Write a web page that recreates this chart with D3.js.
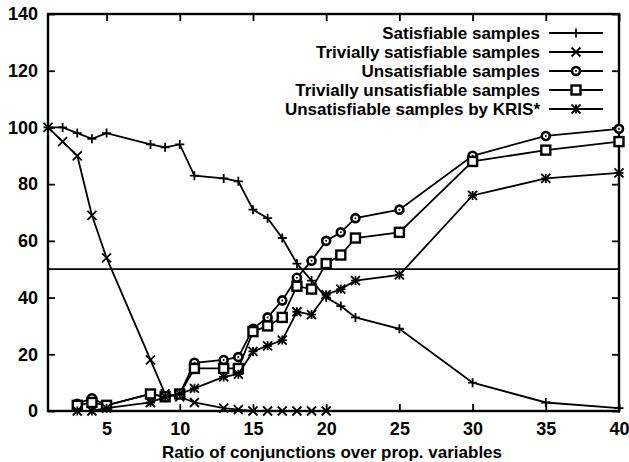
<!DOCTYPE html>
<html>
<head>
<meta charset="utf-8">
<script src="https://cdn.jsdelivr.net/npm/d3@7"></script>
<style>
body { margin: 0; background: #fff; }
text { font-family: "Liberation Sans", Arial, sans-serif; font-weight: bold; fill: #000; }
</style>
</head>
<body>
<svg id="chart" width="629" height="462"></svg>
<script>
var ratios = [1, 2, 3, 4, 5, 8, 9, 10, 11, 13, 14, 15, 16, 17, 18, 19, 20, 21, 22, 25, 30, 35, 40];
var satisfiable = [100, 100, 98, 96, 98, 94, 93, 94, 83, 82, 81, 71, 68, 61, 52, 46, 40, 37, 33, 29, 10, 3, 1];
var trivSatisfiable = [100, 95, 90, 69, 54, 18, 6, 5, 3, 1, 0.5, 0, 0, 0, 0, 0, 0, null, null, null, null, null, null];
var unsatisfiable = [null, null, 2.5, 4.5, 2, 6, 5, 6, 17, 18, 19, 29, 33, 39, 47, 53, 60, 63, 68, 71, 90, 97, 99.5];
var trivUnsatisfiable = [null, null, 2, 3, 2, 6, 5, 6, 15, 15, 15, 28, 30, 33, 44, 43, 52, 55, 61, 63, 88, 92, 95];
var krisUnsat = [null, null, 0, 0, 1, 3, 5, 6, 8, 12, 13, 21, 23, 25, 35, 34, 41, 43, 46, 48, 76, 82, 84];
var seriesNames = ["Satisfiable samples", "Trivially satisfiable samples", "Unsatisfiable samples",
    "Trivially unsatisfiable samples", "Unsatisfiable samples by KRIS*"];
var markerTypes = ["plus", "cross", "circle", "square", "star"];
var xTicks = [5, 10, 15, 20, 25, 30, 35, 40];
var yTicks = [0, 20, 40, 60, 80, 100, 120, 140];
var xLabel = "Ratio of conjunctions over prop. variables";

var allSeries = [satisfiable, trivSatisfiable, unsatisfiable, trivUnsatisfiable, krisUnsat];

var plotLeft = 48, plotRight = 619, plotTop = 14, plotBottom = 411;
var x = d3.scaleLinear().domain([1, 40]).range([plotLeft, plotRight]);
var y = d3.scaleLinear().domain([0, 140]).range([plotBottom, plotTop]);

var svg = d3.select("#chart");

// markers
function drawMarker(g, type, cx, cy) {
    var s = 4.5;
    if (type == "plus" || type == "star") {
        g.append("path").attr("d", "M" + (cx - s) + "," + cy + "H" + (cx + s) + "M" + cx + "," + (cy - s) + "V" + (cy + s))
            .attr("stroke", "#000").attr("stroke-width", 1.8);
    }
    if (type == "cross" || type == "star") {
        g.append("path").attr("d", "M" + (cx - s) + "," + (cy - s) + "L" + (cx + s) + "," + (cy + s) + "M" + (cx - s) + "," + (cy + s) + "L" + (cx + s) + "," + (cy - s))
            .attr("stroke", "#000").attr("stroke-width", 1.8);
    }
    if (type == "circle") {
        g.append("circle").attr("cx", cx).attr("cy", cy).attr("r", 4)
            .attr("fill", "#fff").attr("stroke", "#000").attr("stroke-width", 2.6);
        g.append("circle").attr("cx", cx).attr("cy", cy).attr("r", 1).attr("fill", "#000");
    }
    if (type == "square") {
        g.append("rect").attr("x", cx - 4.5).attr("y", cy - 4.5).attr("width", 9).attr("height", 9)
            .attr("fill", "#fff").attr("stroke", "#000").attr("stroke-width", 2.4);
    }
}

// 50% line
svg.append("line")
    .attr("x1", plotLeft).attr("x2", plotRight)
    .attr("y1", y(50)).attr("y2", y(50))
    .attr("stroke", "#000").attr("stroke-width", 1.8);

// ticks (inward, all four sides)
var ax = svg.append("g");
ax.append("g").attr("transform", "translate(0," + plotBottom + ")")
    .call(d3.axisBottom(x).tickValues(xTicks).tickSizeInner(-7).tickSizeOuter(0).tickPadding(11));
ax.append("g").attr("transform", "translate(0," + plotTop + ")")
    .call(d3.axisTop(x).tickValues(xTicks).tickSizeInner(-7).tickSizeOuter(0).tickFormat(""));
ax.append("g").attr("transform", "translate(" + plotLeft + ",0)")
    .call(d3.axisLeft(y).tickValues(yTicks).tickSizeInner(-7).tickSizeOuter(0).tickPadding(10));
ax.append("g").attr("transform", "translate(" + plotRight + ",0)")
    .call(d3.axisRight(y).tickValues(yTicks).tickSizeInner(-7).tickSizeOuter(0).tickFormat(""));
ax.selectAll(".domain").remove();
ax.selectAll(".tick line").attr("stroke", "#000").attr("stroke-width", 1.8);
ax.selectAll(".tick text")
    .style("font-family", "'Liberation Sans', Arial, sans-serif")
    .style("font-weight", "bold")
    .style("font-size", "18px")
    .attr("fill", "#000");

// frame
svg.append("rect")
    .attr("x", plotLeft).attr("y", plotTop)
    .attr("width", plotRight - plotLeft).attr("height", plotBottom - plotTop)
    .attr("fill", "none").attr("stroke", "#000").attr("stroke-width", 2.4);

// series
var line = d3.line()
    .defined(function(d) { return d[1] != null; })
    .x(function(d) { return x(d[0]); })
    .y(function(d) { return y(d[1]); });

allSeries.forEach(function(vals, k) {
    var pts = ratios.map(function(r, i) { return [r, vals[i]]; });
    var g = svg.append("g");
    g.append("path")
        .datum(pts)
        .attr("d", line)
        .attr("fill", "none")
        .attr("stroke", "#000")
        .attr("stroke-width", 1.8);
    pts.forEach(function(p) {
        if (p[1] != null) drawMarker(g, markerTypes[k], x(p[0]), y(p[1]));
    });
});

// legend
var legendY = [33, 52, 71, 90, 109];
var leg = svg.append("g");
seriesNames.forEach(function(name, k) {
    leg.append("text")
        .attr("x", 540)
        .attr("y", legendY[k])
        .attr("dy", "0.35em")
        .attr("text-anchor", "end")
        .style("font-size", "17px")
        .text(name);
    leg.append("line")
        .attr("x1", 549).attr("x2", 603)
        .attr("y1", legendY[k]).attr("y2", legendY[k])
        .attr("stroke", "#000").attr("stroke-width", 1.8);
    drawMarker(leg, markerTypes[k], 576, legendY[k]);
});

// x label
svg.append("text")
    .attr("x", 332)
    .attr("y", 458)
    .attr("text-anchor", "middle")
    .style("font-size", "17px")
    .text(xLabel);
</script>
</body>
</html>
